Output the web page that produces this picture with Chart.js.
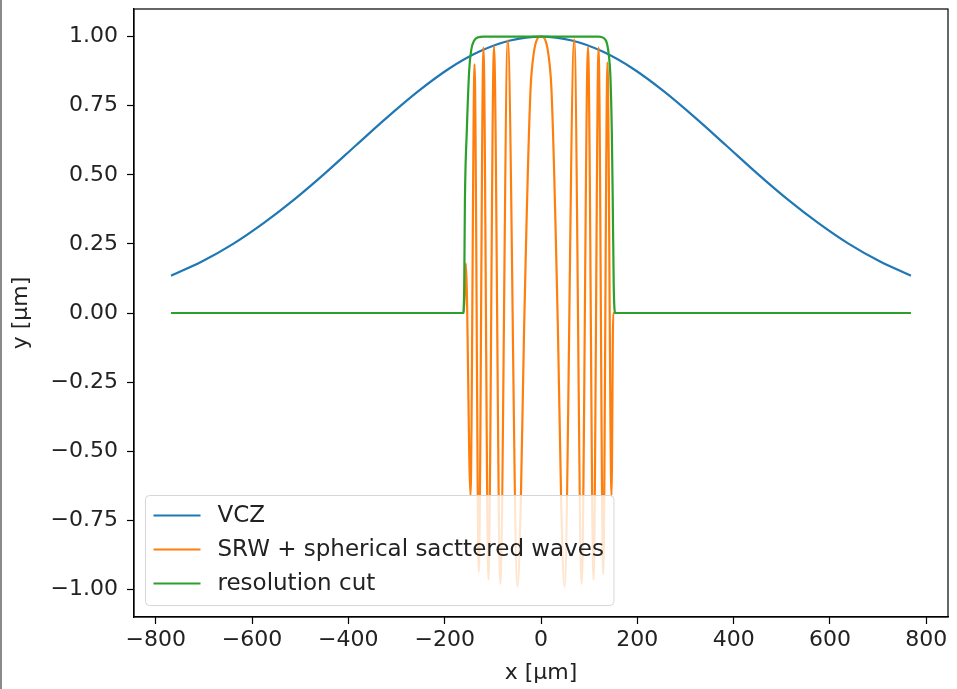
<!DOCTYPE html>
<html>
<head>
<meta charset="utf-8">
<script src="https://cdn.jsdelivr.net/npm/chart.js@4"></script>
<style>
  html, body { margin: 0; padding: 0; background: #fff; }
  canvas { display: block; }
</style>
</head>
<body>
<canvas id="vczChart" width="957" height="689"></canvas>
<script>
// VCZ curve
const vczX = [-768, -704, -640, -576, -512, -448, -384, -320, -256, -192, -128, -64, 0,
              64, 128, 192, 256, 320, 384, 448, 512, 576, 640, 704, 768];
const vczY = [0.135, 0.186, 0.249, 0.325, 0.411, 0.506, 0.607, 0.707, 0.801, 0.883, 0.946, 0.986, 1.000,
              0.986, 0.946, 0.883, 0.801, 0.707, 0.607, 0.506, 0.411, 0.325, 0.249, 0.186, 0.135];

// SRW + scattered waves (peaks / troughs)
const srwX = [-768, -160, -156, -146.4, -138, -129.1, -119.5, -109.1, -97.6, -84.5, -69, -48.8, -42, -35, -20, 0,
              20, 35, 42, 48.8, 69, 84.5, 97.6, 109.1, 119.5, 129.1, 138, 146.4, 150, 768];
const srwY = [0, 0, 0.18, -0.66, 0.90, -0.937, 0.96, -0.965, 0.966, -0.98, 0.987, -0.99, -0.69, -0.05, 0.86, 1.0,
              0.86, -0.05, -0.69, -0.99, 0.99, -0.98, 0.963, -0.965, 0.96, -0.945, 0.906, -0.66, 0, 0];

// resolution cut
const cutX = [-768, -162, -159.5, -158, -154, -149, -145, -139, -130, -120, 0, 120, 130, 137, 141, 144, 147, 149, 151, 154, 768];
const cutY = [0, 0, 0.08, 0.4, 0.66, 0.88, 0.95, 0.985, 0.998, 1, 1, 1, 0.995, 0.975, 0.93, 0.86, 0.66, 0.4, 0.1, 0, 0];

const seriesLabels = ['VCZ', 'SRW + spherical sacttered waves', 'resolution cut'];
const seriesColors = ['#1f77b4', '#ff7f0e', '#2ca02c'];

const FONT = "'DejaVu Sans', sans-serif";
const FSIZE = 22;

function pts(xs, ys) {
    return xs.map((x, i) => ({ x: x, y: ys[i] }));
}

function minusFmt(v, digits) {
    const s = Math.abs(v).toFixed(digits);
    return (v < 0 && Math.abs(v) > 1e-9 ? '\u2212' : '') + s;
}

// frame, legend and window edge
const extras = {
    id: 'extras',
    afterDatasetsDraw(chart) {
        const ctx = chart.ctx;
        const a = chart.chartArea;
        ctx.save();

        // legend box
        ctx.font = '23px ' + FONT;
        let maxW = 0;
        seriesLabels.forEach(t => { maxW = Math.max(maxW, ctx.measureText(t).width); });
        const bx = a.left + 11.5, by = 495.5;
        const bw = 72 + maxW + 10, bh = 110;
        ctx.beginPath();
        ctx.roundRect(bx, by, bw, bh, 4);
        ctx.fillStyle = 'rgba(255,255,255,0.8)';
        ctx.fill();
        ctx.strokeStyle = '#d6d6d6';
        ctx.lineWidth = 1;
        ctx.stroke();

        seriesLabels.forEach((t, i) => {
            const cy = by + 20 + i * 34;
            ctx.beginPath();
            ctx.moveTo(bx + 8, cy);
            ctx.lineTo(bx + 55, cy);
            ctx.strokeStyle = seriesColors[i];
            ctx.lineWidth = 2.2;
            ctx.stroke();
            ctx.fillStyle = '#222';
            ctx.textBaseline = 'middle';
            ctx.fillText(t, bx + 72, cy + 1);
        });

        // axes frame
        ctx.strokeStyle = '#000';
        ctx.lineWidth = 1.2;
        ctx.strokeRect(a.left, a.top, a.right - a.left, a.bottom - a.top);

        // window edge on the left
        ctx.fillStyle = '#8a8a8a';
        ctx.fillRect(0, 0, 2, chart.height);
        ctx.restore();
    }
};

const ctx = document.getElementById('vczChart').getContext('2d');

new Chart(ctx, {
    type: 'scatter',
    data: {
        datasets: [
            { label: seriesLabels[0], data: pts(vczX, vczY), borderColor: seriesColors[0], order: 3 },
            { label: seriesLabels[1], data: pts(srwX, srwY), borderColor: seriesColors[1], order: 2 },
            { label: seriesLabels[2], data: pts(cutX, cutY), borderColor: seriesColors[2], order: 1 }
        ].map(d => Object.assign(d, {
            showLine: true,
            pointRadius: 0,
            borderWidth: 2.2,
            cubicInterpolationMode: 'monotone',
            fill: false
        }))
    },
    options: {
        responsive: false,
        animation: false,
        devicePixelRatio: 1,
        layout: { padding: { top: 9, right: 9, left: 0, bottom: 0 } },
        plugins: {
            legend: { display: false },
            tooltip: { enabled: false }
        },
        scales: {
            x: {
                type: 'linear',
                min: -845,
                max: 845,
                afterFit: s => { s.height = 72; s.paddingLeft = 0; s.paddingRight = 0; },
                border: { display: true, color: '#000', width: 1.2 },
                grid: { drawOnChartArea: false, drawTicks: true, tickLength: 7, tickColor: '#000', tickWidth: 1.2 },
                ticks: {
                    stepSize: 200,
                    includeBounds: false,
                    maxRotation: 0,
                    padding: 3,
                    color: '#222',
                    font: { family: FONT, size: FSIZE },
                    callback: v => minusFmt(v, 0)
                },
                title: {
                    display: true,
                    text: 'x [\u00b5m]',
                    color: '#222',
                    font: { family: FONT, size: FSIZE },
                    padding: { top: 0, bottom: 3 }
                }
            },
            y: {
                type: 'linear',
                min: -1.1,
                max: 1.1,
                afterFit: s => { s.width = 134; s.paddingTop = 0; s.paddingBottom = 0; },
                border: { display: true, color: '#000', width: 1.2 },
                grid: { drawOnChartArea: false, drawTicks: true, tickLength: 7, tickColor: '#000', tickWidth: 1.2 },
                ticks: {
                    stepSize: 0.25,
                    includeBounds: false,
                    padding: 9,
                    color: '#222',
                    font: { family: FONT, size: FSIZE },
                    callback: v => minusFmt(v, 2)
                },
                title: {
                    display: true,
                    text: 'y [\u00b5m]',
                    color: '#222',
                    font: { family: FONT, size: FSIZE },
                    padding: { top: 8, bottom: 0 }
                }
            }
        }
    },
    plugins: [extras]
});
</script>
</body>
</html>
